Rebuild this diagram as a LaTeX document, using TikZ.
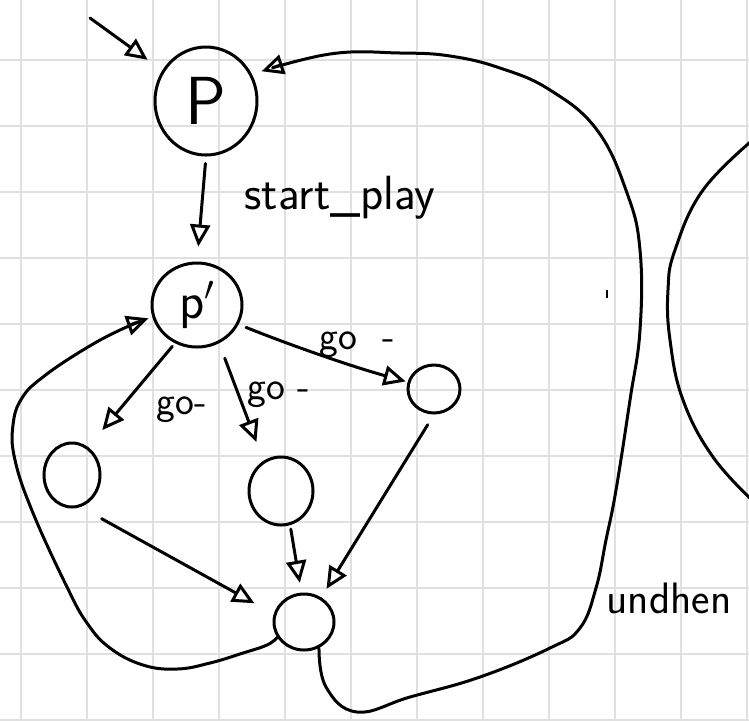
\documentclass[tikz,border=0pt]{standalone}
\usepackage{fontspec}
\usetikzlibrary{shapes.geometric,arrows.meta}
\definecolor{gridgray}{HTML}{E0E0E0}
\begin{document}
\begin{tikzpicture}[x=0.5pt,y=-0.5pt,
  state/.style={draw, ellipse, line width=1.5pt, inner sep=0pt},
  edge/.style={draw, line width=1.5pt, line cap=round, line join=round,
    -{Triangle[open,length=11pt,width=10pt]}},
  plain/.style={draw, line width=1.5pt, line cap=round},
  lbl/.style={font=\sffamily\fontsize{20}{22}\selectfont, inner sep=0pt},
  gridline/.style={draw=gridgray, line width=1pt}]
\useasboundingbox (0,0) rectangle (749,720);
\fill[white] (0,0) rectangle (749,720);
\clip (0,0) rectangle (749,720);
% grid paper
\foreach \gx in {21,87,...,747} \draw[gridline] (\gx,0) -- (\gx,720);
\foreach \gy in {60,126,...,720} \draw[gridline] (0,\gy) -- (749,\gy);

% states
\node[state, minimum width=51pt, minimum height=54pt, font=\sffamily\fontsize{34}{36}\selectfont] (P) at (206,101) {P};
\node[state, minimum width=45pt, minimum height=42pt, font=\sffamily\fontsize{26}{28}\selectfont] (Pp) at (197,305) {p$'$};
\node[state, minimum width=28pt, minimum height=32pt] (L) at (72,475) {};
\node[state, minimum width=32pt, minimum height=34pt] (M) at (281,491) {};
\node[state, minimum width=26pt, minimum height=24pt] (R) at (434,389) {};
\node[state, minimum width=30pt, minimum height=28pt] (B) at (304,622) {};

% initial arrow
\coordinate (init) at (90,18);
\draw[edge, shorten >=9pt] (init) -- (P.145);

% P -> P'
\draw[edge, shorten <=3.5pt, shorten >=7.5pt] (P.south) -- (Pp.north);
\node[lbl, font=\sffamily\fontsize{24}{26}\selectfont] (lstart) at (340,198) {start\_play};

% P' -> L, M, R
\draw[edge, shorten <=2pt, shorten >=11pt] (Pp.240) -- (L.60);
\node[lbl] (lgo1) at (182,410) {go-};
\draw[edge, shorten <=8pt, shorten >=10pt] (Pp.300) -- (M.120);
\node[lbl] (lgo2) at (279,395) {go -};
\draw[edge, shorten <=4pt, shorten >=1pt] (Pp.-25) .. controls (290,345) and (350,366) .. (R.165);
\node[lbl] (lgo3) at (357,345) {go\ \ -};

% L, M, R -> B
\draw[edge, shorten <=12pt, shorten >=11pt] (L.-75) -- (B.165);
\draw[edge, shorten <=2pt, shorten >=5pt] (M.-75) -- (B.95);
\draw[edge, shorten <=6pt, shorten >=5pt] (R.-90) -- (B.55);

% B -> P (big loop, undhen)
\draw[edge, shorten >=5pt] plot[smooth, tension=0.7] coordinates {(B.-60) (326,687) (357,712) (410,697) (480,677) (550,648) (580,628) (596,588) (606,540) (616,490) (630,400) (640,330) (640,250) (627,193) (597,130) (550,90) (500,68) (450,56) (400,53) (330,54) (P.30)};
\node[lbl, font=\sffamily\fontsize{22}{24}\selectfont] (lundhen) at (669,598) {undhen};

% B -> P' (left loop)
\draw[edge, shorten >=2pt] plot[smooth, tension=0.7] coordinates {(B.-150) (267,645) (243,653) (210,663) (177,669) (143,665) (110,648) (87,623) (67,587) (33,513) (15,460) (13,425) (22,398) (43,377) (83,350) (120,330) (Pp.195)};

% tick mark
\draw[line width=1pt] (607,290) -- (607,298);

% large partial circle on the right
\draw[plain] plot[smooth, tension=0.7] coordinates {(755,138) (703,190) (675,250) (668,290) (670,340) (683,400) (713,457) (755,503)};
\end{tikzpicture}
\end{document}
